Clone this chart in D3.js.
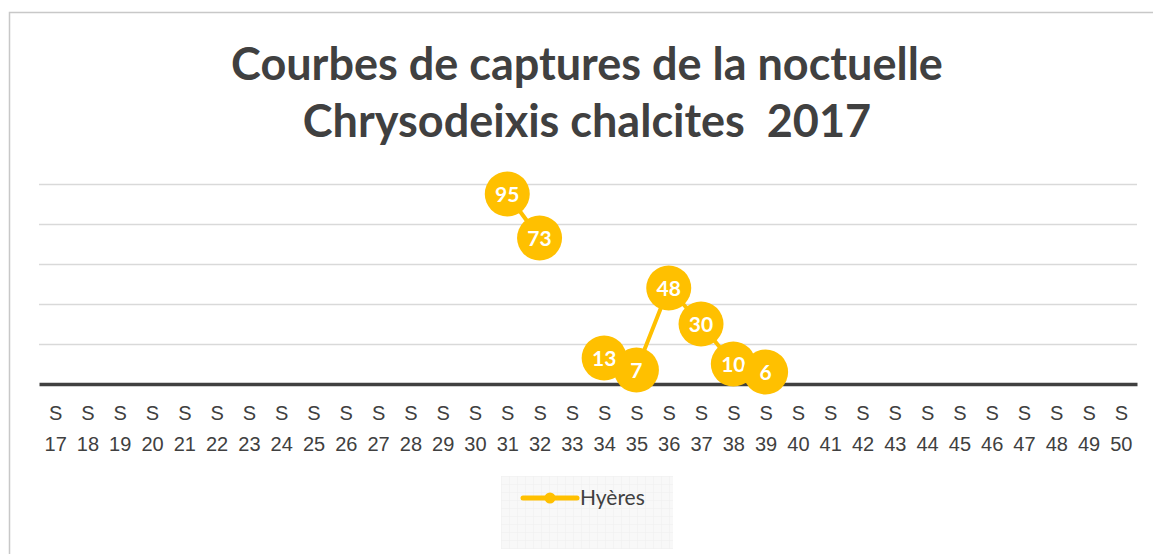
<!DOCTYPE html>
<html>
<head>
<meta charset="utf-8">
<script src="https://cdn.jsdelivr.net/npm/d3@7"></script>
<style>
  body { margin: 0; background: #fff; }
  svg { display: block; font-family: Lato, "Open Sans", sans-serif; }
</style>
</head>
<body>
<div id="chart"></div>
<script>
// weeks and catches (null = no trap reading)
var weeks = d3.range(17, 51).map(function(w) { return "S " + w; });
var seriesName = "Hyères";
var captures = {
  "S 31": 95, "S 32": 73, "S 34": 13, "S 35": 7,
  "S 36": 48, "S 37": 30, "S 38": 10, "S 39": 6
};
var yTicks = [0, 20, 40, 60, 80, 100];
var titleLines = ["Courbes de captures de la noctuelle", "Chrysodeixis chalcites  2017"];

var W = 1153, H = 554;
var plot = {left: 39, right: 1137, top: 184, bottom: 384};
var gold = "#FFC000", dark = "#404040";

var svg = d3.select("#chart").append("svg")
  .attr("width", W).attr("height", H);

// chart frame
svg.append("rect")
  .attr("x", 9.5).attr("y", 12.5)
  .attr("width", W + 20).attr("height", H + 20)
  .attr("fill", "#fff").attr("stroke", "#c8c8c8").attr("stroke-width", 1.5);

// title
svg.selectAll(".title")
  .data(titleLines)
  .enter().append("text")
    .attr("x", 587)
    .attr("y", function(d, i) { return 80 + i * 57; })
    .attr("text-anchor", "middle")
    .style("font-size", "45px")
    .style("font-weight", "bold")
    .style("white-space", "pre")
    .style("fill", dark)
    .text(function(d) { return d; });

var x = d3.scalePoint()
  .domain(weeks)
  .range([plot.left, plot.right])
  .padding(0.5);

var y = d3.scaleLinear()
  .domain([0, 100])
  .range([plot.bottom, plot.top]);

// gridlines
svg.append("g")
  .attr("transform", "translate(" + plot.left + ",0)")
  .call(d3.axisLeft(y).tickValues(yTicks.slice(1)).tickSize(-(plot.right - plot.left)).tickFormat(""))
  .call(function(g) { g.select(".domain").remove(); })
  .selectAll("line")
    .attr("stroke", "#d9d9d9")
    .attr("stroke-width", 1.5);

// x axis: baseline + two-line labels
var xAxis = svg.append("g")
  .attr("transform", "translate(0," + plot.bottom + ")")
  .call(d3.axisBottom(x).tickSize(0).tickFormat(""));
xAxis.select(".domain")
  .attr("stroke", dark)
  .attr("stroke-width", 3.5);

xAxis.selectAll(".tick").each(function(d) {
  var parts = d.split(" ");
  var t = d3.select(this).append("text")
    .attr("text-anchor", "middle")
    .style("font-size", "20px")
    .style("fill", dark);
  t.append("tspan").attr("x", 0).attr("y", 36).text(parts[0]);
  t.append("tspan").attr("x", 0).attr("y", 67).text(parts[1]);
});

var points = weeks.map(function(w) {
  return {week: w, value: captures[w] === undefined ? null : captures[w]};
});

var line = d3.line()
  .defined(function(d) { return d.value !== null; })
  .x(function(d) { return x(d.week); })
  .y(function(d) { return y(d.value); });

svg.append("path")
  .datum(points)
  .attr("d", line)
  .attr("fill", "none")
  .attr("stroke", gold)
  .attr("stroke-width", 4);

var dots = svg.selectAll(".dot")
  .data(points.filter(function(d) { return d.value !== null; }))
  .enter().append("g")
    .attr("transform", function(d) { return "translate(" + x(d.week) + "," + y(d.value) + ")"; });

dots.append("circle")
  .attr("r", 22.5)
  .attr("fill", gold);

dots.append("text")
  .attr("text-anchor", "middle")
  .attr("dy", "0.36em")
  .style("font-size", "21px")
  .style("font-weight", "bold")
  .style("fill", "#fff")
  .text(function(d) { return d.value; });

// legend
var defs = svg.append("defs");
var pat = defs.append("pattern")
  .attr("id", "grid").attr("width", 8).attr("height", 8)
  .attr("patternUnits", "userSpaceOnUse");
pat.append("rect").attr("width", 8).attr("height", 8).attr("fill", "#f8f8f8");
pat.append("path").attr("d", "M8 0 L0 0 L0 8").attr("fill", "none")
  .attr("stroke", "#efefef").attr("stroke-width", 1);

var legend = svg.append("g").attr("transform", "translate(501,476)");
legend.append("rect")
  .attr("width", 172).attr("height", 73)
  .attr("fill", "url(#grid)");
legend.append("line")
  .attr("x1", 22).attr("x2", 76).attr("y1", 22).attr("y2", 22)
  .attr("stroke", gold).attr("stroke-width", 5).attr("stroke-linecap", "round");
legend.append("circle")
  .attr("cx", 49).attr("cy", 22).attr("r", 5.5).attr("fill", gold);
legend.append("text")
  .attr("x", 79).attr("y", 29)
  .style("font-size", "21px")
  .style("fill", dark)
  .text(seriesName);
</script>
</body>
</html>
